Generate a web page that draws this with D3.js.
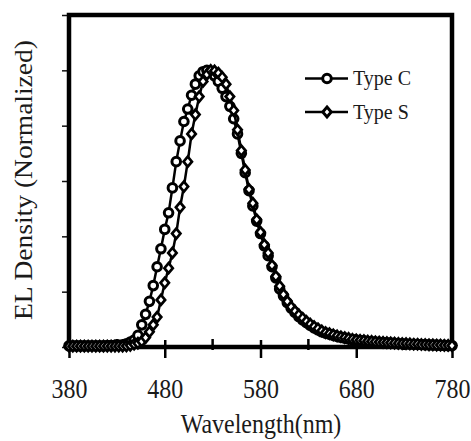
<!DOCTYPE html>
<html>
<head>
<meta charset="utf-8">
<script src="https://cdn.jsdelivr.net/npm/d3@7.9.0/dist/d3.min.js"></script>
<style>
  body { margin: 0; background: #fff; }
  svg { display: block; }
  text { font-family: "Liberation Serif", "Times New Roman", serif; fill: #1a1a1a; }
</style>
</head>
<body>
<svg id="chart" width="471" height="441"></svg>
<script>
// wavelength grid, 4 nm steps
const wavelengths = d3.range(380, 781, 4);

const typeC = [
  0.004, 0.004, 0.004, 0.004, 0.004, 0.004, 0.004, 0.004, 0.004, 0.004, // 380-416
  0.005, 0.005, 0.006, 0.006, 0.008, 0.012, 0.018, 0.025, 0.042, 0.080, // 420-456
  0.118, 0.165, 0.222, 0.290, 0.355, 0.425, 0.485, 0.575, 0.670, 0.745, // 460-496
  0.815, 0.860, 0.910, 0.950, 0.980, 0.995, 1.000, 0.995, 0.980, 0.960, // 500-536
  0.935, 0.905, 0.870, 0.825, 0.770, 0.700, 0.630, 0.565, 0.510, 0.455, // 540-576
  0.410, 0.365, 0.330, 0.290, 0.250, 0.210, 0.185, 0.160, 0.140, 0.125, // 580-616
  0.110, 0.098, 0.088, 0.078, 0.069, 0.062, 0.055, 0.050, 0.046, 0.042, // 620-656
  0.038, 0.035, 0.032, 0.029, 0.027, 0.025, 0.023, 0.022, 0.020, 0.019, // 660-696
  0.018, 0.017, 0.016, 0.015, 0.014, 0.013, 0.012, 0.012, 0.011, 0.010, // 700-736
  0.010, 0.009, 0.009, 0.008, 0.008, 0.007, 0.007, 0.006, 0.006, 0.005, // 740-776
  0.005                                                                  // 780
];

const typeS = [
  0.003, 0.003, 0.003, 0.003, 0.003, 0.003, 0.003, 0.003, 0.003, 0.003, // 380-416
  0.003, 0.003, 0.003, 0.003, 0.003, 0.004, 0.006, 0.010, 0.014, 0.020, // 420-456
  0.034, 0.055, 0.080, 0.108, 0.170, 0.232, 0.285, 0.340, 0.410, 0.505, // 460-496
  0.580, 0.670, 0.770, 0.840, 0.905, 0.960, 0.985, 1.000, 0.998, 0.990, // 500-536
  0.975, 0.950, 0.905, 0.855, 0.785, 0.710, 0.640, 0.570, 0.520, 0.460, // 540-576
  0.415, 0.370, 0.340, 0.295, 0.255, 0.220, 0.190, 0.165, 0.145, 0.130, // 580-616
  0.116, 0.104, 0.093, 0.083, 0.074, 0.066, 0.058, 0.052, 0.048, 0.044, // 620-656
  0.040, 0.037, 0.034, 0.031, 0.028, 0.026, 0.024, 0.023, 0.021, 0.020, // 660-696
  0.019, 0.018, 0.017, 0.016, 0.015, 0.014, 0.013, 0.012, 0.012, 0.011, // 700-736
  0.010, 0.010, 0.009, 0.009, 0.008, 0.008, 0.007, 0.007, 0.006, 0.006, // 740-776
  0.005                                                                  // 780
];

const xMajorTicks = [380, 480, 580, 680, 780];
const xMinorTicks = [430, 530, 630, 730];
const yTicks = [0, 0.2, 0.4, 0.6, 0.8, 1.0, 1.2];
const seriesNames = ['Type C', 'Type S'];

const svg = d3.select('#chart');

const x = d3.scaleLinear().domain([380, 780]).range([69, 452]);
const y = d3.scaleLinear().domain([0, 1.2]).range([347, 15]);

// y ticks (no labels)
svg.append('g')
    .attr('transform', `translate(${x(380)},0)`)
    .call(d3.axisLeft(y).tickValues(yTicks).tickSize(7).tickFormat(''))
    .call(g => g.select('.domain').remove())
    .call(g => g.selectAll('line').attr('stroke', '#111').attr('stroke-width', 1.5));

// frame
svg.append('rect')
    .attr('x', x(380)).attr('y', y(1.2))
    .attr('width', x(780) - x(380)).attr('height', y(0) - y(1.2))
    .attr('fill', 'none').attr('stroke', '#000').attr('stroke-width', 4.5);

// x axis: major ticks cross the line, minor ticks are short
const xAxis = svg.append('g')
    .attr('transform', `translate(0,${y(0)})`)
    .call(d3.axisBottom(x).tickValues(xMajorTicks).tickSize(11).tickPadding(22).tickFormat(d3.format('d')))
    .call(g => g.select('.domain').remove());
xAxis.selectAll('line').attr('y1', -7).attr('stroke', '#000').attr('stroke-width', 2.5);
xAxis.selectAll('text')
    .attr('font-size', 24)
    .attr('fill', '#1a1a1a')
    .attr('dy', null)
    .attr('y', 0)
    .attr('transform', d => `translate(${x(d)},51) scale(1,1.1) translate(${-x(d)},0)`);

svg.append('g')
    .selectAll('line')
    .data(xMinorTicks)
    .join('line')
    .attr('x1', d => x(d)).attr('x2', d => x(d))
    .attr('y1', y(0) - 8).attr('y2', y(0) + 3)
    .attr('stroke', '#000').attr('stroke-width', 2.5);

// series
const series = [
  { name: seriesNames[0], values: typeC, marker: 'circle' },
  { name: seriesNames[1], values: typeS, marker: 'diamond' }
];

const line = d3.line()
    .x(d => x(d[0]))
    .y(d => y(d[1]));

const symbolPath = {
  circle: d3.symbol(d3.symbolCircle, 58)(),
  diamond: 'M0,-5L4.2,0L0,5L-4.2,0Z'
};
const symbolStroke = { circle: 3, diamond: 2.7 };

series.forEach(s => {
  const pts = wavelengths.map((w, i) => [w, s.values[i]]);
  svg.append('path')
      .datum(pts)
      .attr('d', line)
      .attr('fill', 'none')
      .attr('stroke', '#000')
      .attr('stroke-width', 2.5);
  svg.append('g')
      .selectAll('path')
      .data(pts)
      .join('path')
      .attr('d', symbolPath[s.marker])
      .attr('transform', d => `translate(${x(d[0])},${y(d[1])})`)
      .attr('fill', '#fff')
      .attr('stroke', '#000')
      .attr('stroke-width', symbolStroke[s.marker]);
});

// legend
const legend = svg.append('g');
series.forEach((s, i) => {
  const ly = 78.5 + i * 33.5;
  legend.append('line')
      .attr('x1', 305).attr('x2', 348)
      .attr('y1', ly).attr('y2', ly)
      .attr('stroke', '#000').attr('stroke-width', 2.5);
  legend.append('path')
      .attr('d', symbolPath[s.marker])
      .attr('transform', `translate(327,${ly})`)
      .attr('fill', '#fff').attr('stroke', '#000').attr('stroke-width', 3);
  legend.append('text')
      .attr('transform', `translate(353,${ly + 6.5}) scale(1,1.05)`)
      .attr('font-size', 20)
      .text(s.name);
});

// axis titles
svg.append('text')
    .attr('transform', 'translate(261,433) scale(1,1.1)')
    .attr('text-anchor', 'middle')
    .attr('font-size', 24)
    .text('Wavelength(nm)');

svg.append('text')
    .attr('transform', 'translate(32,180) rotate(-90) scale(1.1,1)')
    .attr('text-anchor', 'middle')
    .attr('font-size', 25)
    .text('EL Density (Normalized)');
</script>
</body>
</html>
